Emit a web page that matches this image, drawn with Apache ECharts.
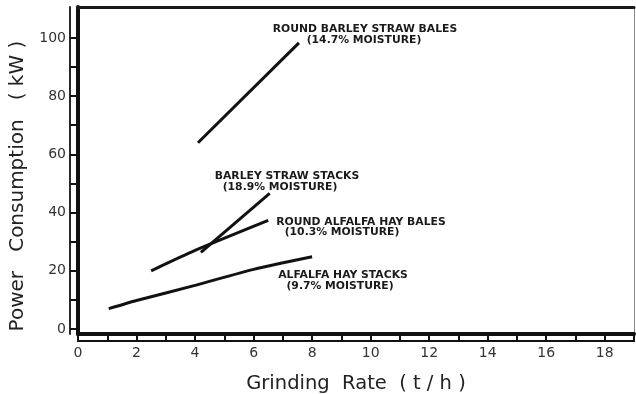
<!DOCTYPE html>
<html>
<head>
<meta charset="utf-8">
<script src="https://cdn.jsdelivr.net/npm/echarts@6/dist/echarts.min.js"></script>
<style>html,body{margin:0;padding:0;background:#fff;}#c{width:636px;height:394px;}</style>
</head>
<body>
<div id="c"></div>
<script>
// ---- data ----
const xLabelValues = [0, 2, 4, 6, 8, 10, 12, 14, 16, 18];
const yLabelValues = [0, 20, 40, 60, 80, 100];
const yTickValues = [0, 10, 20, 30, 40, 50, 60, 70, 80, 90, 100];
const roundBarleyBales = [[4.1, 64], [7.55, 98.3]];
const barleyStacks = [[4.2, 26.3], [6.55, 46.6]];
const roundAlfalfaBales = [[2.5, 20], [4.0, 27.0], [6.5, 37.3]];
const alfalfaStacks = [[1.05, 7], [2, 9.8], [4, 15], [6, 20.5], [8, 24.8]];
const labelLines = [
  'ROUND BARLEY STRAW BALES', '(14.7% MOISTURE)',
  'BARLEY STRAW STACKS', '(18.9% MOISTURE)',
  'ROUND ALFALFA HAY BALES', '(10.3% MOISTURE)',
  'ALFALFA HAY STACKS', '(9.7% MOISTURE)'
];
const xTitle = 'Grinding  Rate  ( t / h )';
const yTitle = 'Power   Consumption   ( kW )';

// ---- layout ----
const labelPos = [
  [365, 29], [364, 40],
  [287, 176], [280, 187],
  [361, 222], [342, 232],
  [343, 275], [340, 286]
];
const chart = echarts.init(document.getElementById('c'));
const lineStyle = { color: '#111', width: 3 };
function mk(name, data) {
  return { name, type: 'line', data, symbol: 'none', smooth: 0.2, lineStyle, xAxisIndex: 0, yAxisIndex: 0, silent: true };
}
const fontLbl = '"DejaVu Sans", sans-serif';
const X = { min: 0, max: 19 };
const Y = { min: -1.7, max: 110.6 };
function plainAxis(range, extra, lineCfg) {
  return Object.assign({
    type: 'value', min: range.min, max: range.max,
    axisLine: { show: true, onZero: false, lineStyle: lineCfg },
    axisTick: { show: false }, axisLabel: { show: false }, splitLine: { show: false }
  }, extra);
}
chart.setOption({
  animation: false,
  backgroundColor: '#fff',
  grid: { left: 78, right: 2, top: 7, bottom: 60, show: false, containLabel: false, outerBoundsMode: 'none' },
  xAxis: [{
    type: 'value', min: X.min, max: X.max, interval: 1, position: 'bottom',
    axisLine: { onZero: false, lineStyle: { color: '#111', width: 4 } },
    axisTick: { show: true, length: 8, inside: false, lineStyle: { color: '#111', width: 2 } },
    axisLabel: { customValues: xLabelValues, margin: 12, color: '#333', fontSize: 14, fontFamily: fontLbl },
    splitLine: { show: false },
    name: xTitle, nameLocation: 'middle', nameGap: 40,
    nameTextStyle: { fontSize: 19.5, color: '#222', fontFamily: fontLbl }
  },
    plainAxis(X, { position: 'bottom', offset: 7 }, { color: '#111', width: 1.8 }),
    plainAxis(X, { position: 'top' }, { color: '#1a1a1a', width: 3 })
  ],
  yAxis: [{
    type: 'value', min: Y.min, max: Y.max, position: 'left',
    axisLine: { onZero: false, lineStyle: { color: '#111', width: 4 } },
    axisTick: { show: true, length: 8, customValues: yTickValues, lineStyle: { color: '#111', width: 2 } },
    axisLabel: { customValues: yLabelValues, margin: 12, color: '#333', fontSize: 14, fontFamily: fontLbl },
    splitLine: { show: false },
    name: yTitle, nameLocation: 'middle', nameGap: 50, nameRotate: 90,
    nameTextStyle: { fontSize: 20, color: '#222', fontFamily: fontLbl, padding: [0, 31, 0, 0] }
  },
    plainAxis(Y, { position: 'left', offset: 8 }, { color: '#111', width: 1.8 }),
    plainAxis(Y, { position: 'right' }, { color: '#888', width: 1 })
  ],
  series: [
    mk('Round barley straw bales', roundBarleyBales),
    mk('Barley straw stacks', barleyStacks),
    mk('Round alfalfa hay bales', roundAlfalfaBales),
    mk('Alfalfa hay stacks', alfalfaStacks)
  ],
  graphic: labelLines.map((t, i) => ({
    type: 'text', x: labelPos[i][0], y: labelPos[i][1], scaleX: 1.08, silent: true,
    style: { text: t, fill: '#1a1a1a', font: 'bold 10px "DejaVu Sans", sans-serif', align: 'center', verticalAlign: 'middle' }
  }))
});
</script>
</body>
</html>
